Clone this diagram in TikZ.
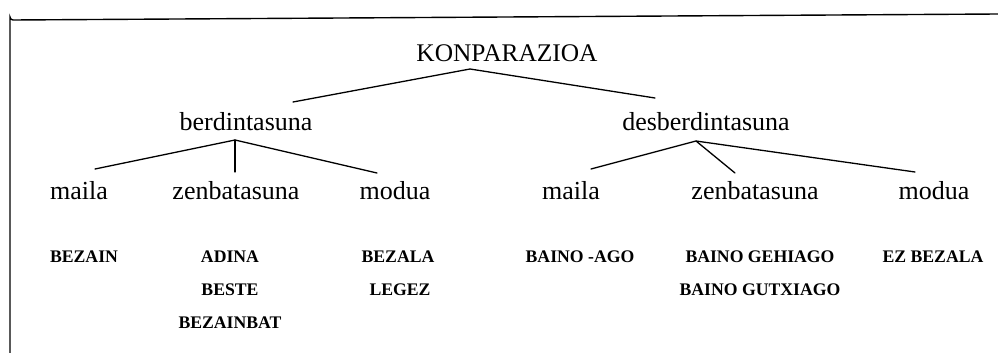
\documentclass[tikz,border=0pt]{standalone}
\usepackage{fontspec}
\setmainfont{Liberation Serif}
\begin{document}
\begin{tikzpicture}[x=1pt,y=-1pt,
  word/.style={inner sep=0pt,anchor=base,font=\fontsize{26}{28}\selectfont},
  title/.style={inner sep=0pt,anchor=base,font=\fontsize{25.4}{28}\selectfont},
  form/.style={inner sep=0pt,anchor=base,font=\fontsize{17.7}{20}\selectfont\bfseries},
  branch/.style={line width=1.3pt,line cap=round},
  frame/.style={line width=1.4pt}]
\useasboundingbox (0,0) rectangle (998,353);

% open frame: top and left edges only
\draw[frame] (10,353) -- (10,17) arc[start angle=180,end angle=90,radius=3] -- (998,14);

% root
\node[title] (konp) at (507,62) {KONPARAZIOA};
% second level
\node[word] (berd) at (246,130) {berdintasuna};
\node[word] (desb) at (706,130) {desberdintasuna};
% third level
\node[word] (m1)  at (79,199)  {maila};
\node[word] (z1)  at (236,199) {zenbatasuna};
\node[word] (mo1) at (395,199) {modua};
\node[word] (m2)  at (571,199) {maila};
\node[word] (z2)  at (755,199) {zenbatasuna};
\node[word] (mo2) at (934,199) {modua};

% forms under each leaf
\node[form] (f1) at (84,262)  {BEZAIN};
\node[form] (f2) at (230,262) {ADINA};
\node[form] (f3) at (230,295) {BESTE};
\node[form] (f4) at (230,328) {BEZAINBAT};
\node[form] (f5) at (398,262) {BEZALA};
\node[form] (f6) at (400,295) {LEGEZ};
\node[form] (f7) at (580,262) {BAINO -AGO};
\node[form] (f8) at (760,262) {BAINO GEHIAGO};
\node[form] (f9) at (760,295) {BAINO GUTXIAGO};
\node[form] (f10) at (933,262) {EZ BEZALA};

% attachment points of the branches
\coordinate (konpB) at (470,69);
\coordinate (berdT) at (293,102);
\coordinate (desbT) at (655,98);
\coordinate (berdB) at (235,140);
\coordinate (desbB) at (696,141);
\coordinate (m1T)  at (95,169);
\coordinate (z1T)  at (235,172);
\coordinate (mo1T) at (377,173);
\coordinate (m2T)  at (591,169);
\coordinate (z2T)  at (735,173);
\coordinate (mo2T) at (915,172);

% branches
\draw[branch] (berdT) -- (konpB) -- (desbT);
\draw[branch] (m1T) -- (berdB) -- (mo1T);
\draw[branch] (berdB) -- (z1T);
\draw[branch] (m2T) -- (desbB) -- (mo2T);
\draw[branch] (desbB) -- (z2T);
\end{tikzpicture}
\end{document}
